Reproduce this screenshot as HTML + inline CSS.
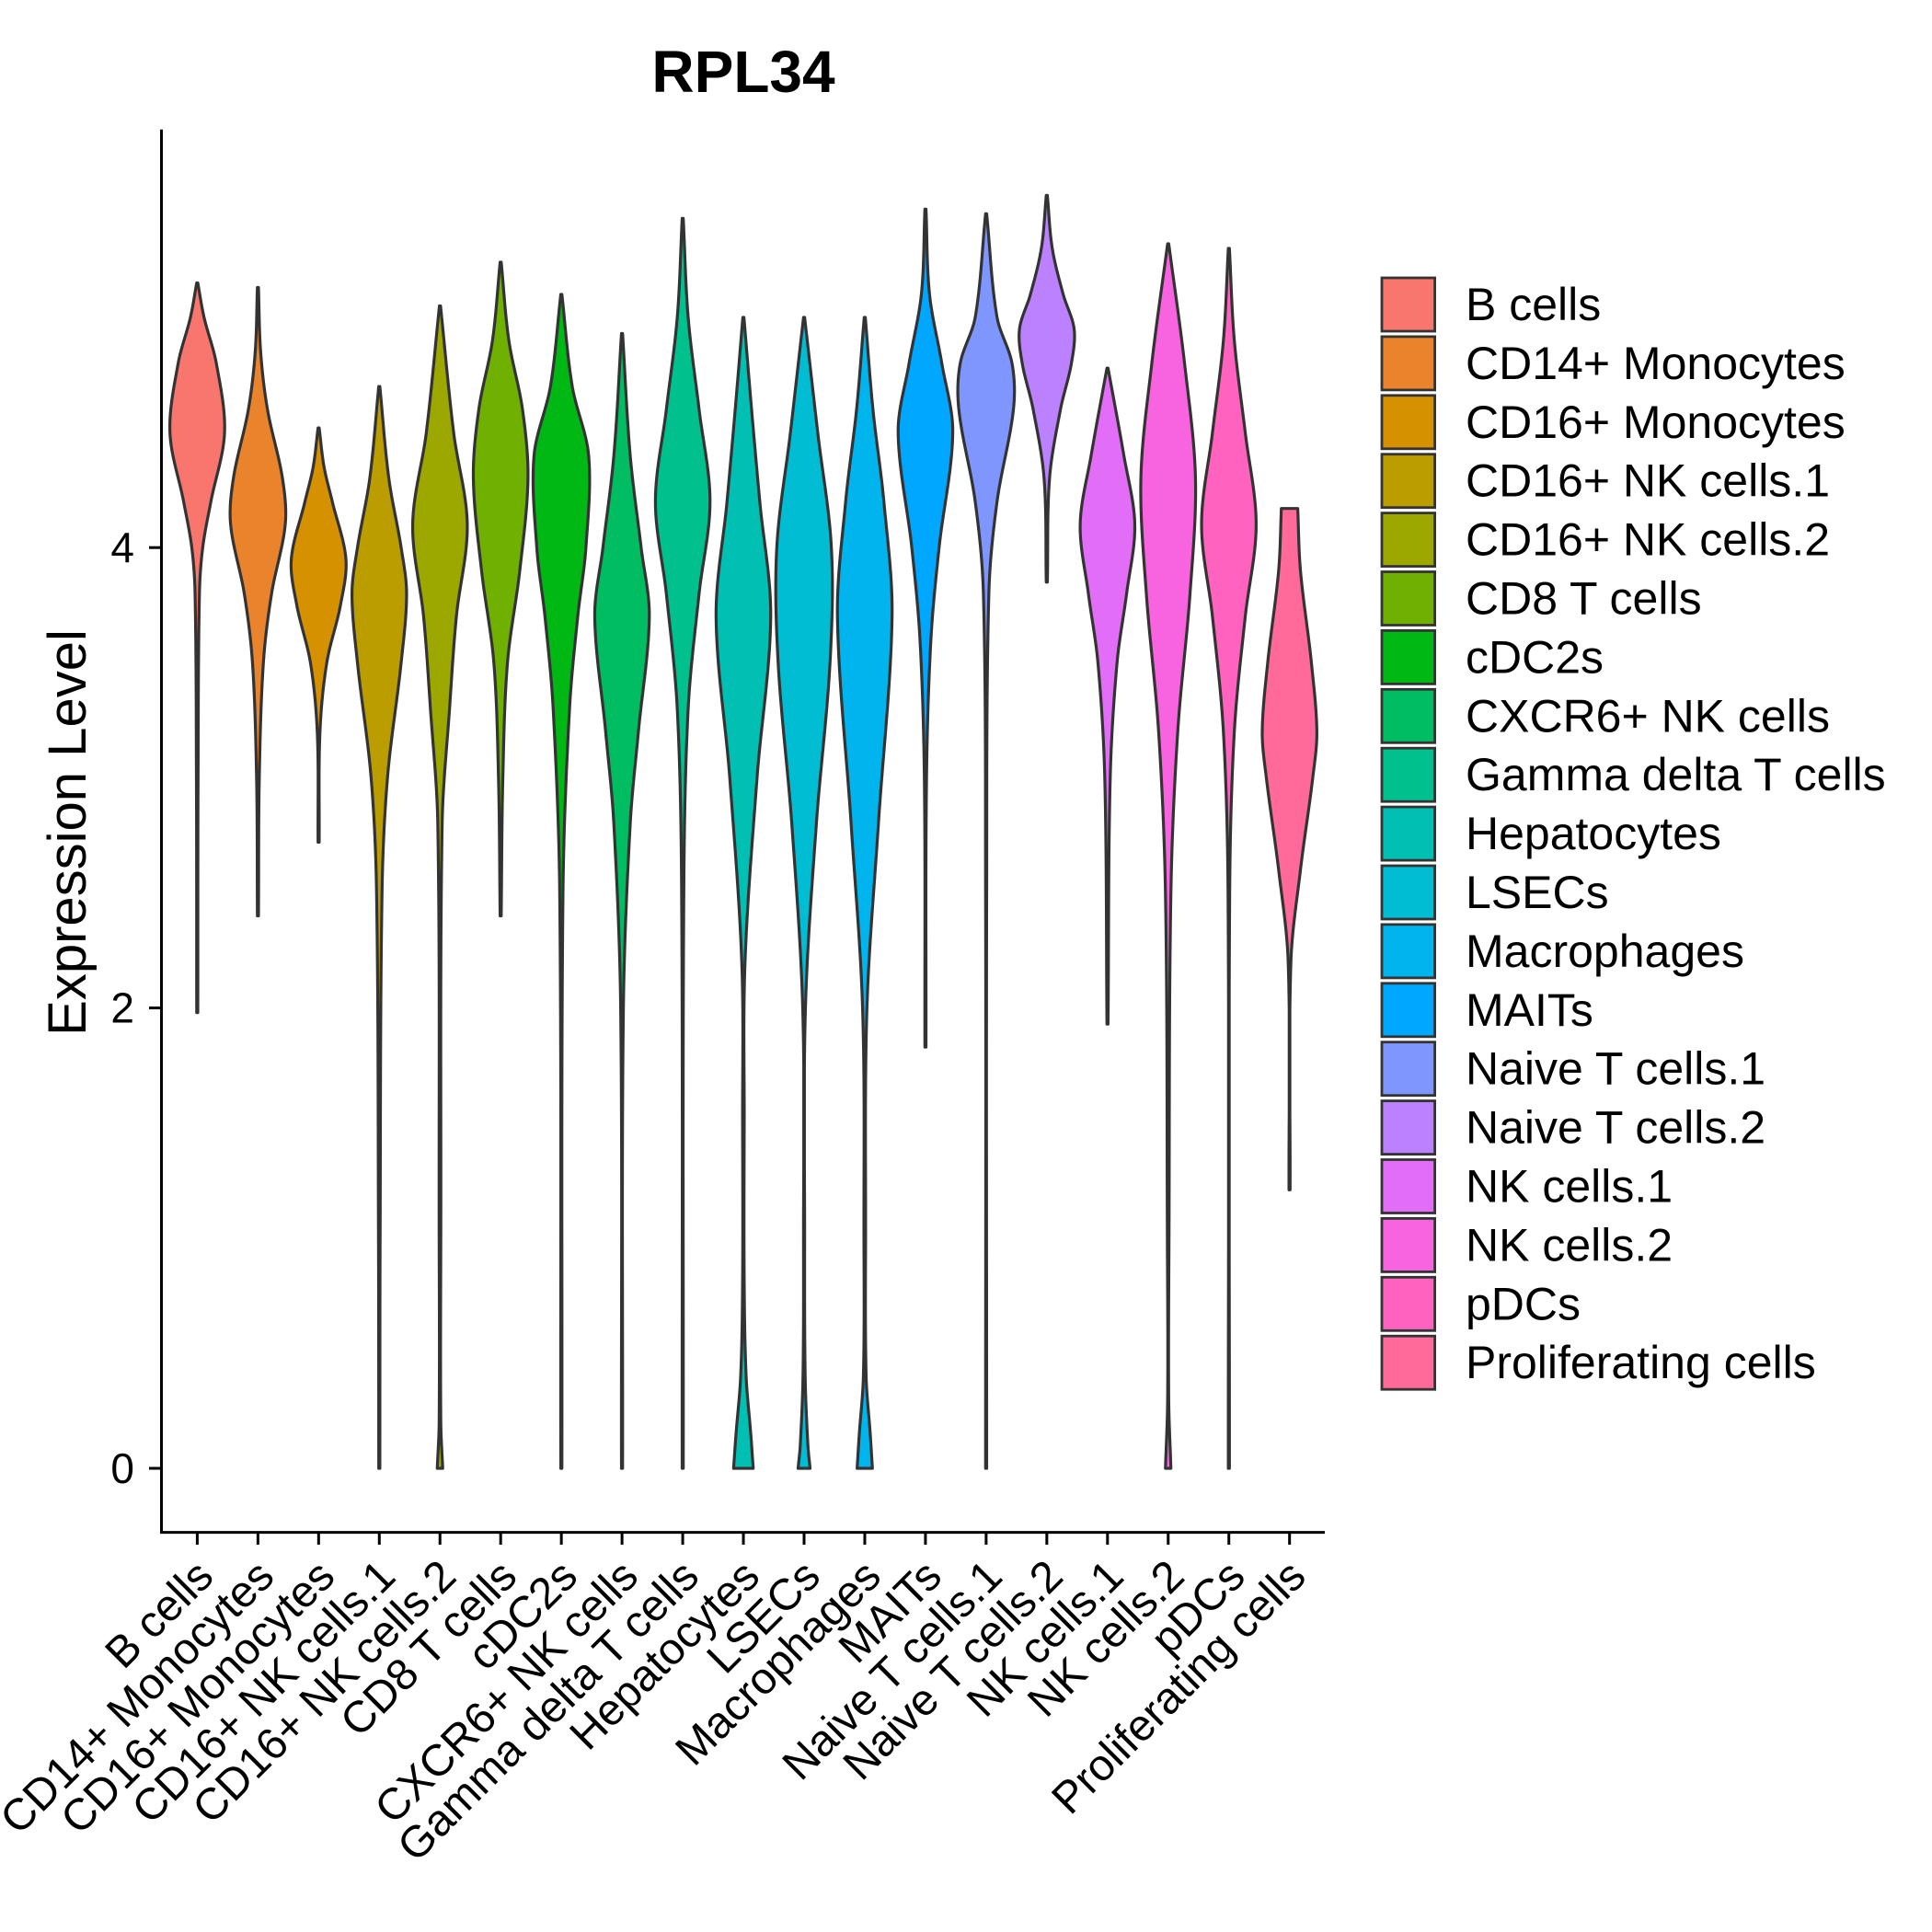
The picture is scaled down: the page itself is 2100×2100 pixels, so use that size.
<!DOCTYPE html>
<html><head><meta charset="utf-8"><style>
html,body{margin:0;padding:0;background:#fff;}
svg{display:block;font-family:"Liberation Sans",Arial,sans-serif;}
</style></head><body>
<svg id="chart" width="2100" height="2100" viewBox="0 0 2100 2100" xmlns="http://www.w3.org/2000/svg">
<text x="808" y="100" font-size="64" font-weight="bold" text-anchor="middle">RPL34</text>
<text transform="translate(93,905) rotate(-90)" font-size="58" text-anchor="middle">Expression Level</text>
<g id="violins"></g>
<g id="axes"></g>
<g id="legend"></g>
</svg>
<script>
const categories=["B cells","CD14+ Monocytes","CD16+ Monocytes","CD16+ NK cells.1","CD16+ NK cells.2","CD8 T cells","cDC2s","CXCR6+ NK cells","Gamma delta T cells","Hepatocytes","LSECs","Macrophages","MAITs","Naive T cells.1","Naive T cells.2","NK cells.1","NK cells.2","pDCs","Proliferating cells"];
const profileY=[
[1.98,3.0,3.8,4.0,4.2,4.5,4.8,5.0,5.15],
[2.4,3.0,3.5,3.8,4.1,4.3,4.6,4.85,5.13],
[2.72,3.2,3.5,3.75,3.95,4.2,4.35,4.52],
[0,1.0,2.5,3.0,3.5,3.8,4.0,4.3,4.7],
[0,0.2,1,2.8,3.3,3.7,4.1,4.5,5.05],
[2.4,3.0,3.5,3.9,4.3,4.6,4.9,5.24],
[0,2.5,3.3,3.7,4.0,4.4,4.7,5.1],
[0,2.0,2.8,3.2,3.7,4.0,4.4,4.93],
[0,2.5,3.3,3.8,4.2,4.6,5.0,5.43],
[0,0.15,0.4,0.8,1.5,2.2,3.0,3.7,4.2,4.6,5.0],
[0,0.1,0.4,1,2,2.8,3.5,4.0,4.5,5.0],
[0,0.15,0.4,1,2,2.8,3.7,4.2,4.6,5.0],
[1.83,3.0,3.6,4.0,4.5,4.8,5.1,5.47],
[0,2.5,3.8,4.2,4.6,4.8,5.0,5.45],
[3.85,4.3,4.6,4.8,4.95,5.1,5.3,5.53],
[1.93,3.0,3.5,3.8,4.1,4.4,4.78],
[0,0.3,1,2.5,3.2,3.8,4.3,4.8,5.32],
[0,2.5,3.2,3.7,4.1,4.5,4.9,5.3],
[1.21,2.2,2.6,3.0,3.2,3.5,3.9,4.17]];
const profileW=[
[0.02,0.03,0.08,0.2,0.5,1,0.7,0.25,0.02],
[0.02,0.05,0.2,0.5,1,0.9,0.35,0.1,0.02],
[0.02,0.05,0.3,0.8,1,0.5,0.2,0.02],
[0.02,0.03,0.1,0.3,0.8,1,0.8,0.35,0.02],
[0.1,0.03,0.03,0.08,0.35,0.6,1,0.5,0.02],
[0.02,0.08,0.25,0.7,1,0.8,0.3,0.02],
[0.02,0.06,0.3,0.6,0.9,1,0.4,0.02],
[0.02,0.05,0.3,0.6,1,0.7,0.3,0.02],
[0.02,0.04,0.2,0.6,1,0.6,0.2,0.02],
[0.36,0.27,0.1,0.03,0.03,0.06,0.5,1,0.6,0.3,0.02],
[0.22,0.14,0.04,0.02,0.05,0.45,0.95,1,0.5,0.02],
[0.28,0.2,0.05,0.03,0.08,0.5,1,0.7,0.3,0.02],
[0.02,0.04,0.2,0.5,1,0.6,0.15,0.02],
[0.02,0.02,0.1,0.4,1,0.95,0.4,0.02],
[0.02,0.1,0.5,0.9,1,0.6,0.2,0.02],
[0.02,0.1,0.35,0.7,1,0.6,0.02],
[0.1,0.02,0.03,0.1,0.35,0.8,1,0.6,0.02],
[0.02,0.03,0.2,0.6,1,0.6,0.2,0.02],
[0.02,0.05,0.4,0.85,1,0.8,0.4,0.3]];
const yTicks=[0,2,4];
const yTickLabels=["0","2","4"];

const NS="http://www.w3.org/2000/svg";
function mk(tag,attrs,parent){const e=document.createElementNS(NS,tag);for(const k in attrs)e.setAttribute(k,attrs[k]);parent.appendChild(e);return e;}
const X0=214.4, XSTEP=65.96, Y0=1596, YU=250.2, HALF=0.45*XSTEP;
function xScale(i){return X0+i*XSTEP;}
function yScale(v){return Y0-v*YU;}
function hcl(h,c,l){
  const hr=h*Math.PI/180,U=c*Math.cos(hr),V=c*Math.sin(hr);
  const Y=l>8?Math.pow((l+16)/116,3):l/903.3;
  const Xn=0.95047,Yn=1,Zn=1.08883,den=Xn+15*Yn+3*Zn,un=4*Xn/den,vn=9*Yn/den;
  const up=U/(13*l)+un,vp=V/(13*l)+vn;
  const X=9*Y*up/(4*vp),Z=-X/3-5*Y+3*Y/vp;
  let r=3.2406*X-1.5372*Y-0.4986*Z,g=-0.9689*X+1.8758*Y+0.0415*Z,b=0.0557*X-0.2040*Y+1.0570*Z;
  const gm=v=>{v=v<=0.0031308?12.92*v:1.055*Math.pow(v,1/2.4)-0.055;return Math.round(Math.max(0,Math.min(1,v))*255);};
  return "rgb("+gm(r)+","+gm(g)+","+gm(b)+")";
}
const colors=categories.map((c,i)=>hcl(15+i*360/categories.length,100,65));
function interp(ys,ws,y){
  const n=ys.length;let k=0;while(k<n-2&&y>ys[k+1])k++;
  const y0=ys[k],y1=ys[k+1],h=y1-y0,t=(y-y0)/h;
  const slope=j=>{const a=Math.max(0,j-1),b=Math.min(n-1,j+1);return (ws[b]-ws[a])/(ys[b]-ys[a]);};
  const m0=slope(k)*h,m1=slope(k+1)*h,t2=t*t,t3=t2*t;
  const v=(2*t3-3*t2+1)*ws[k]+(t3-2*t2+t)*m0+(-2*t3+3*t2)*ws[k+1]+(t3-t2)*m1;
  return Math.max(0.012,v);
}
const vg=document.getElementById("violins");
categories.forEach((c,i)=>{
  const ys=profileY[i],ws=profileW[i],mx=Math.max(...ws);
  const lo=ys[0],hi=ys[ys.length-1],N=240,cx=xScale(i);
  const L=[],R=[];
  for(let s=0;s<=N;s++){const y=lo+(hi-lo)*s/N;const w=interp(ys,ws,y)/mx*HALF;R.push([cx+w,yScale(y)]);L.push([cx-w,yScale(y)]);}
  let d="M"+R.map(p=>p[0].toFixed(2)+","+p[1].toFixed(2)).join("L");
  d+="L"+L.reverse().map(p=>p[0].toFixed(2)+","+p[1].toFixed(2)).join("L")+"Z";
  const p=mk("path",{d:d,fill:colors[i],stroke:"#333333","stroke-width":"3.2","stroke-linejoin":"round"},vg);
  
  
});
const ax=document.getElementById("axes");
const yl=mk("line",{x1:175.5,y1:140.7,x2:175.5,y2:1667,stroke:"#000","stroke-width":"3"},ax);


const xl=mk("line",{x1:174,y1:1665.6,x2:1440,y2:1665.6,stroke:"#000","stroke-width":"3"},ax);


yTicks.forEach((v,k)=>{
  const t=mk("line",{x1:162,x2:175.5,y1:yScale(v),y2:yScale(v),stroke:"#000","stroke-width":"3"},ax);
  
  
  const tx=mk("text",{x:146,y:yScale(v)+16,"font-size":"46","text-anchor":"end",fill:"#000"},ax);
  tx.textContent=yTickLabels[k];
  
  
});
categories.forEach((c,i)=>{
  const x=xScale(i);
  const t=mk("line",{x1:x,x2:x,y1:1665.6,y2:1679,stroke:"#000","stroke-width":"3"},ax);
  
  
  const tx=mk("text",{transform:"translate("+(x+20)+",1716) rotate(-45)","font-size":"48","text-anchor":"end",fill:"#000"},ax);
  tx.textContent=c;
  
  
});
const lg=document.getElementById("legend");
categories.forEach((c,i)=>{
  const cy=331+i*63.9;
  const g=mk("g",{},lg);
  
  
  const r=mk("rect",{x:1502,y:cy-29,width:57.6,height:58,fill:colors[i],stroke:"#333333","stroke-width":"2.8"},g);
  
  
  const t=mk("text",{x:1593,y:cy+17,"font-size":"50",fill:"#000"},g);
  t.textContent=c;
  
  
});
</script>
</body></html>
